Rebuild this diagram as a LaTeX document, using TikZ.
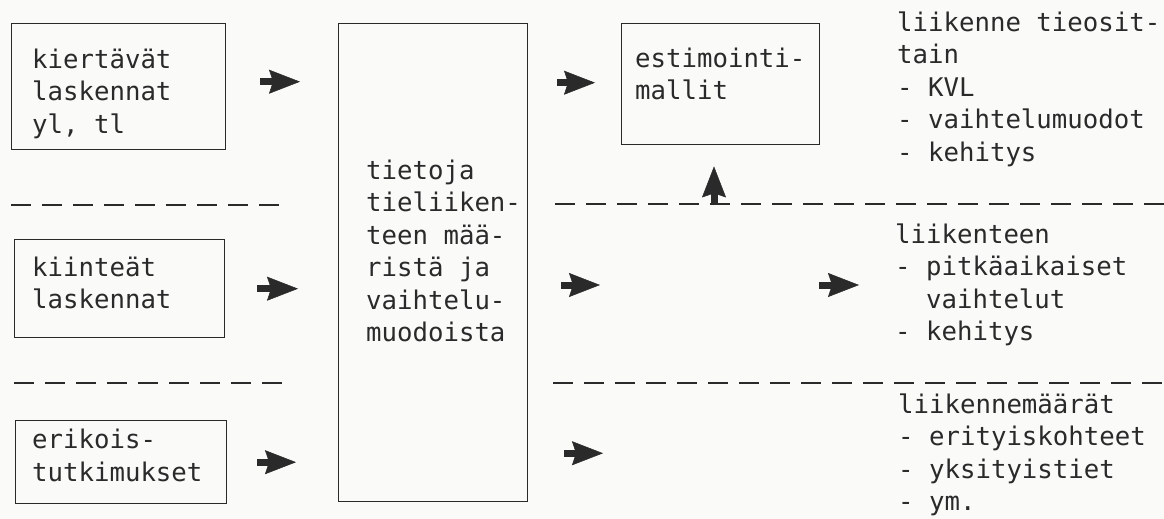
\documentclass[tikz,border=0pt]{standalone}
\usepackage{fontspec}
\setmainfont{DejaVu Sans Mono}
\usetikzlibrary{arrows.meta}
\definecolor{ink}{HTML}{2A2A2A}
\definecolor{paper}{HTML}{FAFAF8}
\begin{document}
\begin{tikzpicture}[x=1pt,y=-1pt,
  every node/.style={inner sep=0pt},
  frame/.style={draw=ink, line width=1.4pt, anchor=north west},
  txt/.style={anchor=north west, align=left, text=ink,
    font=\fontsize{25.7}{32.5}\selectfont},
  sep/.style={draw=ink, line width=1.5pt, dash pattern=on 20pt off 11pt},
  bigarrow/.style={draw=ink, line width=7pt,
    -{Stealth[length=31pt,width=24pt,inset=4pt,line width=0.5pt]}}
]
\useasboundingbox (0,0) rectangle (1164,519);
\fill[paper] (0,0) rectangle (1164,519);

% source boxes
\node[frame, minimum width=214pt, minimum height=126pt] (b1) at (11,23) {};
\node[frame, minimum width=210pt, minimum height=98pt]  (b2) at (14,239) {};
\node[frame, minimum width=211pt, minimum height=83pt]  (b3) at (15,420) {};
% collected data
\node[frame, minimum width=189pt, minimum height=478pt] (big) at (338,23) {};
% estimation models
\node[frame, minimum width=198pt, minimum height=121pt] (est) at (621,23) {};

% box texts
\node[txt] (b1t) at (32,45.25) {\strut kiertävät\\laskennat\\yl, tl};
\node[txt] (b2t) at (32,253.25) {\strut kiinteät\\laskennat};
\node[txt] (b3t) at (32,426) {\strut erikois-\\tutkimukset};
\node[txt] (bigt) at (366,156.25) {\strut tietoja\\tieliiken-\\teen mää-\\ristä ja\\vaihtelu-\\muodoista};
\node[txt] (estt) at (635,44.25) {\strut estimointi-\\mallit};

% results
\node[txt] (r1) at (897,8.25) {\strut liikenne tieosit-\\tain\\- KVL\\- vaihtelumuodot\\- kehitys};
\node[txt] (r2) at (895,220.25) {\strut liikenteen\\- pitkäaikaiset\\\phantom{- }vaihtelut\\- kehitys};
\node[txt] (r3) at (898,390.25) {\strut liikennemäärät\\- erityiskohteet\\- yksityistiet\\- ym.};

% row separators
\draw[sep] (11,205) -- (290,205);
\draw[sep] (555,204) -- (1164,204);
\draw[sep] (14,383) -- (288,383);
\draw[sep] (553,383) -- (1164,383);

% branching point of the middle row
\coordinate (hub) at (714,285);

% flows
\draw[bigarrow, shorten <=34pt, shorten >=38pt]
  ([yshift=5pt]b1.east) -- ([yshift=5pt]b1.east -| big.west);
\draw[bigarrow, shorten <=29pt, shorten >=26pt]
  ([yshift=1.5pt]big.east |- est.west) -- ([yshift=1.5pt]est.west);
\draw[bigarrow, shorten <=32pt, shorten >=40pt]
  (b2.east) -- (b2.east -| big.west);
\draw[bigarrow, shorten <=33pt, shorten >=114pt]
  (big.east |- hub) -- (hub);
\draw[bigarrow, shorten <=105pt, shorten >=36pt]
  (hub) -- (hub -| r2.west);
\draw[bigarrow, shorten <=82pt, shorten >=21pt]
  (hub) -- (hub |- est.south);
\draw[bigarrow, shorten <=30pt, shorten >=42pt]
  (b3.east) -- (b3.east -| big.west);
\draw[bigarrow, shorten <=36pt, shorten >=295pt]
  (big.east |- r3.west) -- (r3.west);
\end{tikzpicture}
\end{document}
